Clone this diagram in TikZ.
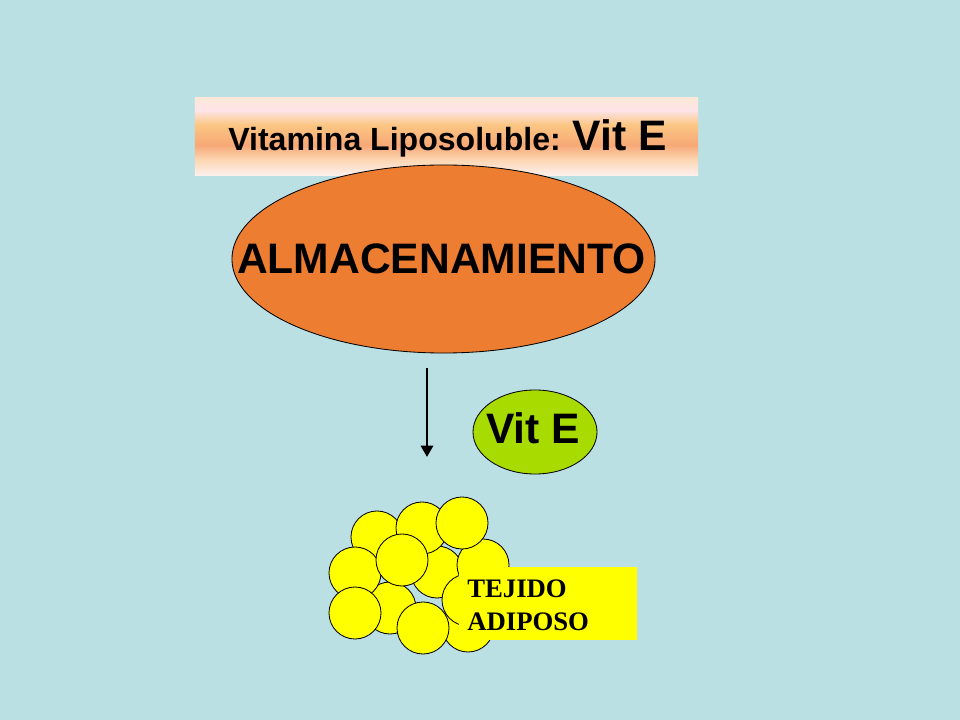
\documentclass[tikz,border=0pt]{standalone}
\usepackage{fontspec}
\setmainfont{Liberation Sans}
\newfontfamily\romanfont{Liberation Serif}
\usetikzlibrary{arrows.meta,shapes.geometric,positioning}
\definecolor{slidebg}{RGB}{187,224,227}
\definecolor{almorange}{RGB}{237,125,49}
\definecolor{vitgreen}{RGB}{168,220,0}
\definecolor{fatyellow}{RGB}{255,255,0}
\definecolor{bnA}{RGB}{253,240,236}
\definecolor{bnB}{RGB}{252,214,178}
\definecolor{bnC}{RGB}{247,168,118}
\definecolor{bnD}{RGB}{251,198,130}
\definecolor{bnE}{RGB}{254,228,232}
\definecolor{bnF}{RGB}{252,232,216}
\pgfdeclareverticalshading{bannershade}{100bp}{color(0bp)=(bnA); color(25bp)=(bnA); color(35bp)=(bnB); color(44.5bp)=(bnC); color(57.5bp)=(bnD); color(67bp)=(bnE); color(75bp)=(bnF); color(100bp)=(bnF)}
\newcommand{\fsize}[1]{\fontsize{#1}{1.2\dimexpr #1\relax}\selectfont}

\begin{document}
\begin{tikzpicture}[x=0.025cm, y=-0.025cm,
    cell/.style={draw=black, fill=fatyellow, line width=0.6pt},
    outline/.style={draw=black, line width=0.6pt, inner sep=0pt}]
    \newcommand{\rc}{0.65cm}
    \fill[slidebg] (0,0) rectangle (960,720);

    % title banner
    \node[shading=bannershade, minimum width=12.575cm, minimum height=1.925cm, inner sep=0pt] (banner) at (446.5,136.5) {};
    \node[anchor=base west, inner sep=0pt, font=\bfseries\fsize{22.8pt}] (bannertxt) at (228,151) {Vitamina Liposoluble: {\fsize{30.3pt}Vit E}};

    % storage
    \node[ellipse, outline, fill=almorange, minimum width=10.575cm, minimum height=4.7cm] (almacen) at (443.5,259) {};
    \node[inner sep=0pt, font=\bfseries\fsize{30.3pt}] (almacentxt) at (441.5,259) {ALMACENAMIENTO};

    \coordinate (arrtop) at (427,368);
    \coordinate (arrtip) at (427,457);
    \draw[line width=2.1pt, -{Triangle[width=8.5pt, length=8pt]}] (arrtop) -- (arrtip);

    \node[ellipse, outline, fill=vitgreen, minimum width=3.1cm, minimum height=2.1cm] (vite) at (535,432) {};
    \node[inner sep=0pt, font=\bfseries\fsize{30.3pt}] (vitetxt) at (533,428.5) {Vit E};

    % fat cells
    \draw[cell] (437,572) circle (\rc);
    \draw[cell] (390,608) circle (\rc);
    \draw[cell] (468,626) circle (\rc);
    \draw[cell] (377,537) circle (\rc);
    \draw[cell] (355,573) circle (\rc);
    \draw[cell] (355,613) circle (\rc);
    \draw[cell] (422,528) circle (\rc);
    \draw[cell] (483,565) circle (\rc);
    \draw[cell] (462,523) circle (\rc);
    \draw[cell] (402,560) circle (\rc);
    \draw[cell] (468,600) circle (\rc);
    \draw[cell] (423,628) circle (\rc);

    \node[anchor=north west, fill=fatyellow, minimum width=4.45cm, minimum height=1.825cm, inner sep=0pt] (tejido) at (459,567) {};
    \node[anchor=base west, align=left, inner sep=0pt, font=\romanfont\bfseries\fontsize{19pt}{22.8pt}\selectfont] (tejidotxt) at (467,630) {TEJIDO\\ADIPOSO};
\end{tikzpicture}
\end{document}
